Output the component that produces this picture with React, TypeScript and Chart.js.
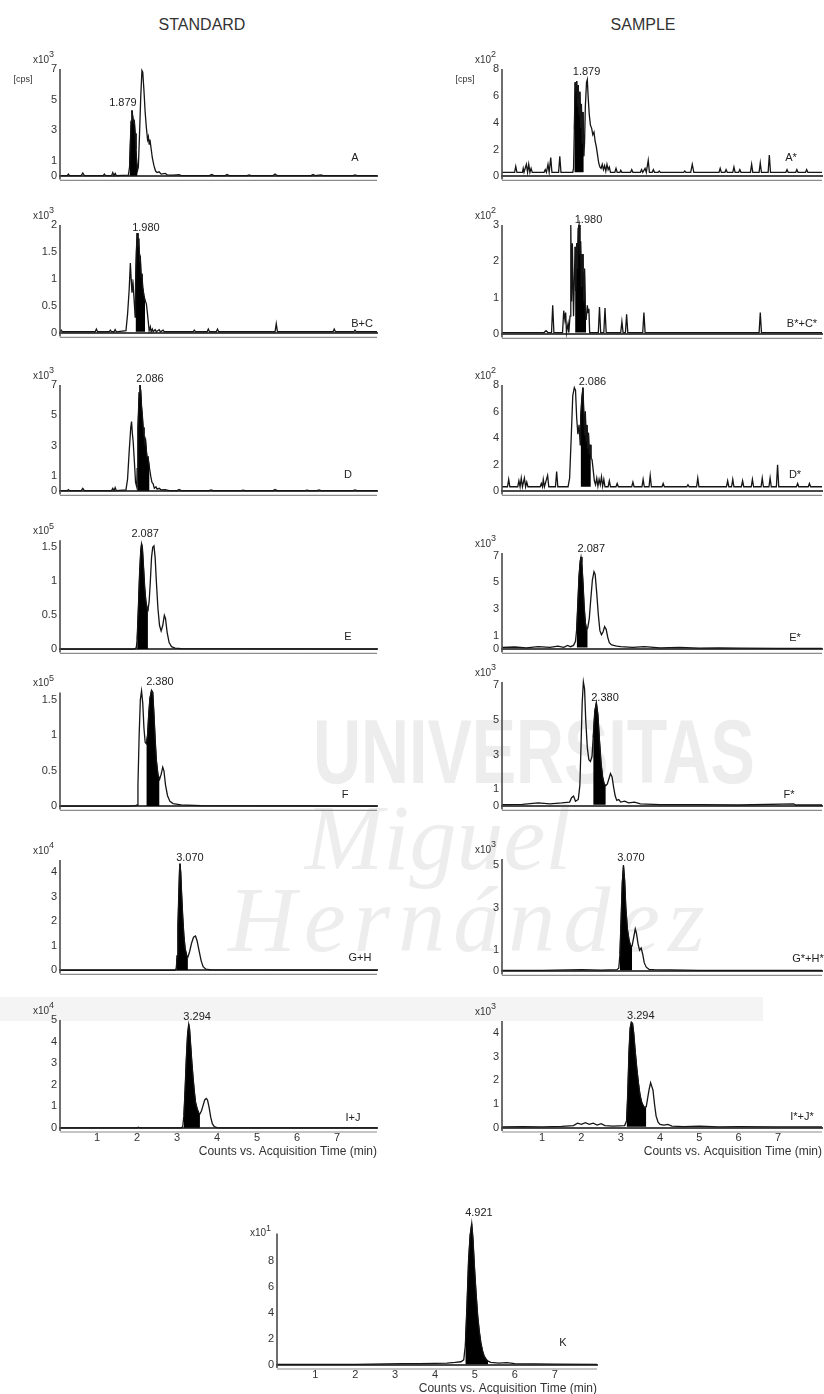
import React, { useEffect, useRef } from "react";
import { Chart, registerables } from "chart.js";

Chart.register(...registerables);

type Pt = [number, number];

// ---------- DATA (time in min, counts in panel units) ----------
const stdA: Pt[] = [
  [0.07, 0.05], [0.25, 0.05], [0.28, 0.15], [0.31, 0.05], [0.6, 0.05], [0.64, 0.22], [0.68, 0.05],
  [1.15, 0.05], [1.18, 0.15], [1.21, 0.05], [1.36, 0.05], [1.39, 0.25], [1.42, 0.05], [1.45, 0.2], [1.48, 0.05],
  [1.78, 0.08], [1.81, 0.6], [1.83, 2.2], [1.85, 3.6], [1.87, 4.3], [1.89, 3.9], [1.91, 3.5], [1.93, 3.6],
  [1.95, 2.8], [1.97, 1.8], [1.99, 0.9], [2.01, 0.4], [2.03, 0.6], [2.06, 2.8], [2.09, 5.2], [2.12, 6.9],
  [2.14, 6.8], [2.17, 5.6], [2.2, 4.2], [2.23, 3.2], [2.26, 2.4], [2.28, 2.6], [2.3, 2.1], [2.32, 2.4],
  [2.35, 1.8], [2.38, 1.2], [2.42, 0.7], [2.46, 0.35], [2.5, 0.25], [2.55, 0.3], [2.6, 0.15], [2.7, 0.2],
  [2.75, 0.1], [2.9, 0.08], [3.05, 0.12], [3.1, 0.05], [3.8, 0.05], [3.87, 0.12], [3.92, 0.05], [4.2, 0.05],
  [4.25, 0.12], [4.3, 0.05], [4.75, 0.05], [4.8, 0.1], [4.85, 0.05], [5.4, 0.05], [5.45, 0.15], [5.5, 0.05],
  [6.35, 0.05], [6.4, 0.12], [6.45, 0.05], [6.6, 0.1], [6.65, 0.05], [7.4, 0.05], [7.45, 0.1], [7.5, 0.05], [8.0, 0.05],
];

const stdBC: Pt[] = [
  [0.07, 0.03], [0.1, 0.06], [0.13, 0.03], [0.95, 0.03], [0.98, 0.08], [1.01, 0.03], [1.3, 0.03], [1.33, 0.06],
  [1.36, 0.03], [1.42, 0.03], [1.45, 0.07], [1.48, 0.03], [1.72, 0.05], [1.76, 0.35], [1.8, 0.8], [1.83, 1.3],
  [1.85, 1.0], [1.87, 0.75], [1.9, 0.9], [1.93, 0.55], [1.95, 0.3], [1.96, 0.9], [1.98, 1.5], [2.0, 1.85],
  [2.02, 1.6], [2.04, 1.75], [2.06, 1.35], [2.08, 1.4], [2.1, 1.05], [2.12, 1.1], [2.14, 0.85], [2.17, 0.7],
  [2.2, 0.6], [2.23, 0.55], [2.26, 0.35], [2.28, 0.2], [2.3, 0.05], [2.33, 0.12], [2.35, 0.03], [2.38, 0.08],
  [2.4, 0.03], [2.45, 0.07], [2.48, 0.03], [2.55, 0.07], [2.58, 0.03], [2.65, 0.06], [2.68, 0.03], [3.4, 0.03],
  [3.43, 0.06], [3.46, 0.03], [3.75, 0.03], [3.78, 0.08], [3.81, 0.03], [3.98, 0.03], [4.01, 0.08], [4.04, 0.03],
  [5.45, 0.03], [5.48, 0.18], [5.51, 0.03], [6.9, 0.03], [6.93, 0.08], [6.96, 0.03], [7.42, 0.03], [7.45, 0.06],
  [7.48, 0.03], [8.0, 0.03],
];

const stdD: Pt[] = [
  [0.07, 0.05], [0.25, 0.05], [0.28, 0.12], [0.31, 0.05], [0.6, 0.05], [0.64, 0.2], [0.68, 0.05], [1.36, 0.05],
  [1.39, 0.2], [1.42, 0.05], [1.45, 0.25], [1.48, 0.05], [1.72, 0.1], [1.76, 0.8], [1.8, 2.6], [1.84, 4.2],
  [1.86, 4.6], [1.88, 3.8], [1.9, 3.3], [1.93, 2.0], [1.96, 0.6], [1.99, 0.3], [2.0, 1.5], [2.02, 4.2],
  [2.05, 6.5], [2.07, 7.0], [2.09, 6.6], [2.11, 5.6], [2.13, 5.0], [2.15, 4.2], [2.17, 3.8], [2.19, 3.2],
  [2.21, 3.4], [2.23, 2.7], [2.25, 2.2], [2.27, 2.3], [2.29, 1.9], [2.31, 1.5], [2.34, 1.0], [2.37, 0.6],
  [2.4, 0.5], [2.43, 0.2], [2.47, 0.3], [2.5, 0.15], [2.55, 0.2], [2.6, 0.1], [2.7, 0.12], [2.8, 0.05],
  [3.0, 0.05], [3.05, 0.12], [3.1, 0.05], [3.8, 0.05], [3.85, 0.1], [3.9, 0.05], [4.6, 0.05], [4.65, 0.08],
  [4.7, 0.05], [5.4, 0.05], [5.45, 0.12], [5.5, 0.05], [6.2, 0.05], [6.25, 0.08], [6.3, 0.05], [6.5, 0.05],
  [6.55, 0.1], [6.6, 0.05], [7.4, 0.05], [7.45, 0.1], [7.5, 0.05], [8.0, 0.05],
];

const stdE: Pt[] = [
  [0.07, 0.005], [1.9, 0.005], [1.95, 0.01], [1.98, 0.03], [2.0, 0.15], [2.03, 0.6], [2.06, 1.1], [2.09, 1.45],
  [2.11, 1.55], [2.13, 1.5], [2.16, 1.2], [2.19, 0.9], [2.22, 0.7], [2.25, 0.6], [2.27, 0.58], [2.3, 0.7],
  [2.33, 1.0], [2.36, 1.35], [2.39, 1.5], [2.42, 1.52], [2.45, 1.35], [2.48, 1.0], [2.52, 0.6], [2.56, 0.35],
  [2.6, 0.27], [2.64, 0.35], [2.68, 0.5], [2.71, 0.45], [2.75, 0.25], [2.8, 0.1], [2.86, 0.04], [2.95, 0.02],
  [3.1, 0.01], [8.0, 0.005],
];

const stdF: Pt[] = [
  [0.07, 0.005], [1.8, 0.005], [1.96, 0.01], [2.0, 0.02], [2.02, 0.3], [2.05, 1.0], [2.08, 1.5], [2.11, 1.62],
  [2.14, 1.45], [2.17, 1.1], [2.2, 0.9], [2.23, 0.88], [2.26, 1.0], [2.29, 1.3], [2.32, 1.52], [2.36, 1.63],
  [2.39, 1.6], [2.42, 1.3], [2.45, 0.95], [2.48, 0.65], [2.52, 0.45], [2.56, 0.38], [2.6, 0.45], [2.64, 0.55],
  [2.67, 0.5], [2.71, 0.3], [2.76, 0.15], [2.82, 0.07], [2.9, 0.04], [3.1, 0.02], [3.6, 0.01], [8.0, 0.005],
];

const stdGH: Pt[] = [
  [0.07, 0.005], [2.9, 0.005], [2.95, 0.01], [2.98, 0.1], [3.0, 0.6], [3.02, 1.8], [3.04, 3.0], [3.06, 4.1],
  [3.07, 4.35], [3.09, 4.0], [3.11, 3.2], [3.14, 2.2], [3.17, 1.4], [3.2, 0.9], [3.24, 0.6], [3.27, 0.55],
  [3.31, 0.75], [3.36, 1.1], [3.41, 1.35], [3.46, 1.4], [3.5, 1.2], [3.55, 0.8], [3.6, 0.4], [3.65, 0.15],
  [3.72, 0.05], [3.85, 0.02], [8.0, 0.005],
];

const stdIJ: Pt[] = [
  [0.07, 0.01], [2.0, 0.01], [2.03, 0.04], [2.06, 0.01], [3.1, 0.01], [3.14, 0.05], [3.17, 0.6], [3.2, 1.8],
  [3.23, 3.2], [3.26, 4.3], [3.29, 4.8], [3.31, 4.6], [3.34, 3.8], [3.37, 3.0], [3.4, 2.3], [3.43, 1.7],
  [3.46, 1.2], [3.5, 0.9], [3.54, 0.7], [3.57, 0.65], [3.61, 0.8], [3.65, 1.05], [3.69, 1.3], [3.73, 1.37],
  [3.76, 1.3], [3.8, 0.95], [3.84, 0.5], [3.88, 0.2], [3.93, 0.06], [4.0, 0.02], [4.1, 0.01], [8.0, 0.01],
];

const smpA: Pt[] = [
  [-0.02, 0.3], [0.3, 0.3], [0.33, 0.75], [0.36, 0.3], [0.5, 0.3], [0.52, 0.6], [0.54, 0.3], [0.6, 0.9],
  [0.63, 0.3], [0.66, 0.9], [0.69, 0.3], [0.72, 0.6], [0.75, 0.3], [1.05, 0.3], [1.08, 0.5], [1.11, 0.3],
  [1.15, 0.9], [1.18, 0.3], [1.22, 1.4], [1.25, 0.3], [1.42, 0.3], [1.45, 1.5], [1.48, 0.3], [1.78, 0.3],
  [1.8, 0.6], [1.82, 3.5], [1.84, 7.0], [1.86, 6.4], [1.88, 7.1], [1.9, 5.2], [1.92, 6.8], [1.94, 4.6],
  [1.96, 6.3], [1.98, 3.6], [2.0, 5.4], [2.02, 2.5], [2.04, 4.8], [2.06, 1.5], [2.08, 2.5], [2.1, 5.2],
  [2.13, 7.0], [2.15, 7.2], [2.17, 6.0], [2.2, 4.6], [2.23, 3.8], [2.26, 3.6], [2.29, 3.1], [2.32, 3.3],
  [2.35, 2.6], [2.38, 2.2], [2.41, 1.6], [2.44, 1.0], [2.47, 0.7], [2.5, 0.6], [2.53, 0.9], [2.56, 0.5],
  [2.59, 0.8], [2.62, 0.4], [2.65, 0.9], [2.68, 0.5], [2.71, 0.7], [2.74, 0.3], [2.85, 0.3], [2.88, 0.6],
  [2.91, 0.3], [2.98, 0.3], [3.0, 0.45], [3.03, 0.3], [3.25, 0.3], [3.28, 0.5], [3.31, 0.3], [3.5, 0.3],
  [3.53, 0.5], [3.56, 0.3], [3.62, 0.6], [3.65, 0.3], [3.7, 1.2], [3.73, 0.3], [3.8, 0.3], [3.83, 0.5],
  [3.86, 0.3], [3.95, 0.3], [3.98, 0.4], [4.01, 0.3], [4.6, 0.3], [4.63, 0.4], [4.66, 0.3], [4.78, 0.3],
  [4.82, 0.9], [4.86, 0.3], [5.5, 0.3], [5.53, 0.6], [5.56, 0.3], [5.65, 0.3], [5.68, 0.5], [5.71, 0.3],
  [5.85, 0.3], [5.88, 0.7], [5.91, 0.3], [6.0, 0.3], [6.03, 0.5], [6.06, 0.3], [6.3, 0.3], [6.33, 0.9],
  [6.36, 0.3], [6.52, 0.3], [6.55, 1.0], [6.58, 0.3], [6.75, 0.3], [6.78, 1.6], [6.81, 0.3], [7.2, 0.3],
  [7.23, 0.5], [7.26, 0.3], [7.45, 0.3], [7.48, 0.5], [7.51, 0.3], [7.7, 0.3], [7.73, 0.5], [7.76, 0.3], [8.12, 0.3],
];

const smpBC: Pt[] = [
  [-0.02, 0.05], [1.05, 0.05], [1.1, 0.1], [1.15, 0.05], [1.24, 0.05], [1.27, 0.8], [1.3, 0.05], [1.52, 0.05],
  [1.55, 0.65], [1.58, 0.4], [1.6, 0.6], [1.62, 0.05], [1.66, 0.3], [1.68, 0.05], [1.71, 0.5], [1.73, 3.0],
  [1.75, 0.9], [1.77, 2.5], [1.79, 1.1], [1.8, 0.5], [1.82, 1.5], [1.84, 2.4], [1.86, 1.2], [1.88, 2.5],
  [1.9, 1.8], [1.92, 2.9], [1.94, 3.0], [1.96, 2.2], [1.98, 2.55], [2.0, 1.3], [2.02, 2.2], [2.04, 1.8],
  [2.06, 0.9], [2.08, 1.8], [2.1, 0.6], [2.12, 0.4], [2.15, 0.8], [2.17, 0.6], [2.19, 0.7], [2.21, 0.05],
  [2.43, 0.05], [2.46, 0.75], [2.49, 0.05], [2.57, 0.05], [2.6, 0.72], [2.63, 0.05], [3.0, 0.05], [3.03, 0.35],
  [3.06, 0.05], [3.12, 0.05], [3.15, 0.55], [3.18, 0.05], [3.56, 0.05], [3.59, 0.6], [3.62, 0.05], [6.52, 0.05],
  [6.55, 0.6], [6.58, 0.05], [8.12, 0.05],
];

const smpD: Pt[] = [
  [-0.02, 0.35], [0.12, 0.35], [0.15, 0.9], [0.18, 0.35], [0.38, 0.35], [0.41, 0.8], [0.44, 0.35], [0.47, 1.0],
  [0.5, 0.35], [0.55, 1.0], [0.58, 0.35], [0.61, 0.7], [0.64, 0.35], [0.95, 0.35], [0.98, 0.6], [1.01, 0.35],
  [1.03, 0.9], [1.06, 0.35], [1.14, 1.2], [1.17, 0.35], [1.34, 0.35], [1.37, 1.5], [1.4, 0.35], [1.66, 0.35],
  [1.7, 1.0], [1.74, 4.0], [1.78, 7.2], [1.82, 7.8], [1.85, 7.6], [1.88, 5.5], [1.91, 4.3], [1.94, 5.0],
  [1.97, 3.5], [1.98, 5.5], [2.01, 7.0], [2.04, 7.8], [2.06, 6.0], [2.08, 4.2], [2.1, 6.0], [2.12, 3.8],
  [2.14, 5.0], [2.16, 3.2], [2.18, 4.4], [2.2, 2.8], [2.22, 3.5], [2.24, 2.5], [2.27, 2.4], [2.3, 1.6],
  [2.33, 0.8], [2.36, 0.5], [2.39, 1.0], [2.42, 0.4], [2.45, 0.9], [2.48, 0.5], [2.51, 1.1], [2.54, 0.4],
  [2.57, 0.9], [2.6, 0.35], [2.68, 0.35], [2.71, 0.8], [2.74, 0.35], [2.88, 0.35], [2.91, 0.6], [2.94, 0.35],
  [3.28, 0.35], [3.31, 0.7], [3.34, 0.35], [3.54, 0.35], [3.57, 0.9], [3.6, 0.35], [3.72, 0.35], [3.75, 1.2],
  [3.78, 0.35], [4.05, 0.35], [4.08, 0.6], [4.11, 0.35], [4.68, 0.35], [4.71, 0.5], [4.74, 0.35], [4.93, 0.35],
  [4.96, 1.0], [4.99, 0.35], [5.69, 0.35], [5.72, 0.8], [5.75, 0.35], [5.82, 0.35], [5.85, 0.9], [5.88, 0.35],
  [6.07, 0.35], [6.1, 0.8], [6.13, 0.35], [6.32, 0.35], [6.35, 0.9], [6.38, 0.35], [6.57, 0.35], [6.6, 1.0],
  [6.63, 0.35], [6.77, 0.35], [6.8, 1.0], [6.83, 0.35], [6.96, 0.35], [6.99, 2.0], [7.02, 0.35], [7.47, 0.35],
  [7.5, 0.6], [7.53, 0.35], [7.77, 0.35], [7.8, 0.6], [7.83, 0.35], [8.12, 0.35],
];

const smpE: Pt[] = [
  [-0.02, 0.15], [0.3, 0.18], [0.6, 0.12], [0.9, 0.2], [1.2, 0.15], [1.4, 0.25], [1.55, 0.15], [1.65, 0.3],
  [1.72, 0.2], [1.8, 0.3], [1.85, 0.6], [1.88, 1.5], [1.91, 3.5], [1.94, 5.5], [1.97, 6.6], [1.99, 6.9],
  [2.01, 6.5], [2.04, 5.0], [2.07, 3.2], [2.1, 2.0], [2.13, 1.5], [2.16, 1.6], [2.2, 2.3], [2.24, 3.8],
  [2.28, 5.2], [2.32, 5.8], [2.35, 5.6], [2.39, 4.2], [2.43, 2.6], [2.47, 1.4], [2.51, 1.1], [2.55, 1.3],
  [2.59, 1.7], [2.63, 1.5], [2.67, 0.9], [2.71, 0.5], [2.76, 0.35], [2.82, 0.3], [2.9, 0.25], [3.0, 0.2],
  [3.3, 0.15], [3.6, 0.2], [4.0, 0.12], [4.5, 0.15], [5.0, 0.1], [5.5, 0.12], [6.0, 0.1], [7.0, 0.08], [8.12, 0.08],
];

const smpF: Pt[] = [
  [-0.02, 0.1], [0.5, 0.12], [0.9, 0.2], [1.2, 0.15], [1.5, 0.2], [1.7, 0.25], [1.75, 0.5], [1.8, 0.6],
  [1.85, 0.3], [1.92, 0.4], [1.96, 1.2], [1.99, 3.5], [2.02, 6.0], [2.05, 7.2], [2.08, 6.8], [2.11, 5.0],
  [2.15, 3.4], [2.19, 2.7], [2.23, 2.6], [2.27, 2.9], [2.3, 4.0], [2.34, 5.5], [2.38, 6.0], [2.42, 5.3],
  [2.46, 3.8], [2.5, 2.5], [2.54, 1.7], [2.58, 1.3], [2.62, 1.2], [2.66, 1.3], [2.7, 1.6], [2.74, 1.9],
  [2.78, 1.7], [2.82, 1.1], [2.86, 0.6], [2.9, 0.35], [2.95, 0.4], [3.0, 0.25], [3.1, 0.3], [3.2, 0.2],
  [3.35, 0.25], [3.5, 0.15], [4.0, 0.1], [5.0, 0.1], [6.0, 0.08], [7.4, 0.15], [7.45, 0.08], [8.12, 0.08],
];

const smpGH: Pt[] = [
  [-0.02, 0.05], [1.0, 0.05], [2.0, 0.08], [2.5, 0.06], [2.9, 0.08], [2.95, 0.15], [2.98, 0.8], [3.01, 2.5],
  [3.04, 4.2], [3.07, 5.0], [3.1, 4.3], [3.13, 3.0], [3.17, 2.0], [3.21, 1.5], [3.25, 1.2], [3.29, 1.2],
  [3.33, 1.6], [3.37, 2.0], [3.4, 1.8], [3.44, 1.3], [3.48, 1.0], [3.52, 1.1], [3.56, 0.8], [3.6, 0.4],
  [3.65, 0.2], [3.72, 0.1], [3.85, 0.08], [5.0, 0.05], [8.12, 0.05],
];

const smpIJ: Pt[] = [
  [-0.02, 0.05], [0.5, 0.06], [1.0, 0.05], [1.5, 0.07], [1.8, 0.1], [1.9, 0.2], [2.0, 0.15], [2.1, 0.22],
  [2.2, 0.15], [2.3, 0.2], [2.4, 0.12], [2.5, 0.18], [2.6, 0.1], [2.8, 0.08], [3.1, 0.1], [3.15, 0.3],
  [3.18, 1.5], [3.21, 3.2], [3.24, 4.2], [3.27, 4.45], [3.3, 4.4], [3.33, 4.0], [3.37, 3.2], [3.41, 2.5],
  [3.45, 1.9], [3.49, 1.4], [3.53, 1.1], [3.57, 0.95], [3.61, 0.85], [3.65, 0.9], [3.68, 1.2], [3.72, 1.6],
  [3.76, 1.9], [3.79, 1.75], [3.82, 1.6], [3.86, 1.0], [3.9, 0.5], [3.95, 0.25], [4.0, 0.15], [4.1, 0.12],
  [4.2, 0.15], [4.3, 0.08], [4.6, 0.06], [5.0, 0.08], [5.5, 0.05], [6.0, 0.06], [7.0, 0.05], [8.12, 0.05],
];

const traceK: Pt[] = [
  [0.04, 0.05], [1.0, 0.05], [2.0, 0.05], [2.8, 0.08], [3.2, 0.1], [3.6, 0.1], [4.0, 0.12], [4.3, 0.15],
  [4.5, 0.2], [4.65, 0.25], [4.72, 0.4], [4.76, 1.5], [4.8, 4.5], [4.84, 8.0], [4.88, 10.0], [4.92, 10.9],
  [4.95, 9.8], [4.99, 7.5], [5.03, 5.5], [5.07, 3.8], [5.11, 2.6], [5.15, 1.7], [5.19, 1.1], [5.23, 0.7],
  [5.28, 0.45], [5.33, 0.3], [5.4, 0.2], [5.6, 0.15], [5.8, 0.18], [6.0, 0.1], [6.5, 0.08], [7.0, 0.06], [8.06, 0.05],
];

const timeTicks = [1, 2, 3, 4, 5, 6, 7];
const ticks7 = [0, 1, 3, 5, 7];
const ticks8 = [0, 2, 4, 6, 8];
const ticksHalf2 = [0, 0.5, 1, 1.5, 2];
const ticksHalf15 = [0, 0.5, 1, 1.5];
const ticks3 = [0, 1, 2, 3];
const ticks4 = [0, 1, 2, 3, 4];
const ticks5 = [0, 1, 2, 3, 4, 5];
const ticks5odd = [0, 1, 3, 5];

// ---------- LAYOUT ----------
const FONT = "'Liberation Sans', Arial, Helvetica, sans-serif";
const PAD_L = 58;
const PAD_T = 36;
const PAD_R = 8;

interface PanelCfg {
  data: Pt[];
  fill: [number, number];
  base: number;
  left: number;
  width: number;
  xMin: number;
  xMax: number;
  zeroY: number;
  unitPx: number;
  yMax: number;
  axisTop: number;
  yTicks: number[];
  exp: string;
  expDy?: number;
  cps?: boolean;
  peak: { text: string; t: number; v: number };
  letter: { text: string; dx: number; dy: number };
  xLabels?: boolean;
}

const L = { left: 60, width: 317, xMin: 0.07, xMax: 8.0 };
const R = { left: 502, width: 320, xMin: -0.02, xMax: 8.12 };

const panels: PanelCfg[] = [
  { ...L, data: stdA, fill: [1.8, 2.02], base: 0.05, zeroY: 178, unitPx: 15.6, yMax: 7, axisTop: 7, yTicks: ticks7, exp: "3", cps: true,
    peak: { text: "1.879", t: 1.645, v: 4.8 }, letter: { text: "A", dx: 22, dy: 18 } },
  { ...L, data: stdBC, fill: [1.955, 2.2], base: 0.03, zeroY: 335, unitPx: 55, yMax: 2, axisTop: 2, yTicks: ticksHalf2, exp: "3",
    peak: { text: "1.980", t: 2.22, v: 1.95 }, letter: { text: "B+C", dx: 15, dy: 9 } },
  { ...L, data: stdD, fill: [1.995, 2.31], base: 0.05, zeroY: 493, unitPx: 15.4, yMax: 7, axisTop: 7, yTicks: ticks7, exp: "3",
    peak: { text: "2.086", t: 2.32, v: 7.4 }, letter: { text: "D", dx: 29, dy: 16 } },
  { ...L, data: stdE, fill: [2.0, 2.27], base: 0.005, zeroY: 651, unitPx: 69, yMax: 1.62, axisTop: 1.6, yTicks: ticksHalf15, exp: "5",
    peak: { text: "2.087", t: 2.2, v: 1.7 }, letter: { text: "E", dx: 29, dy: 12 } },
  { ...L, data: stdF, fill: [2.23, 2.56], base: 0.005, zeroY: 808, unitPx: 72, yMax: 1.62, axisTop: 1.6, yTicks: ticksHalf15, exp: "5",
    peak: { text: "2.380", t: 2.57, v: 1.74 }, letter: { text: "F", dx: 32, dy: 11 } },
  { ...L, data: stdGH, fill: [2.98, 3.27], base: 0.005, zeroY: 972, unitPx: 25, yMax: 4.5, axisTop: 4.5, yTicks: ticks4, exp: "4",
    peak: { text: "3.070", t: 3.32, v: 4.6 }, letter: { text: "G+H", dx: 17, dy: 12 } },
  { ...L, data: stdIJ, fill: [3.16, 3.57], base: 0.01, zeroY: 1128, unitPx: 21.6, yMax: 5, axisTop: 5, yTicks: ticks5, exp: "4",
    peak: { text: "3.294", t: 3.5, v: 5.15 }, letter: { text: "I+J", dx: 24, dy: 10 }, xLabels: true },

  { ...R, data: smpA, fill: [1.81, 2.07], base: 0.3, zeroY: 178, unitPx: 13.6, yMax: 8, axisTop: 8, yTicks: ticks8, exp: "2", cps: true,
    peak: { text: "1.879", t: 2.13, v: 7.8 }, letter: { text: "A*", dx: 31, dy: 18 } },
  { ...R, data: smpBC, fill: [1.83, 2.12], base: 0.05, zeroY: 336, unitPx: 37, yMax: 3, axisTop: 3, yTicks: ticks3, exp: "2",
    peak: { text: "1.980", t: 2.18, v: 3.13 }, letter: { text: "B*+C*", dx: 20, dy: 10 } },
  { ...R, data: smpD, fill: [1.975, 2.25], base: 0.35, zeroY: 493, unitPx: 13.5, yMax: 8, axisTop: 8, yTicks: ticks8, exp: "2",
    peak: { text: "2.086", t: 2.28, v: 8.2 }, letter: { text: "D*", dx: 27, dy: 16 } },
  { ...R, data: smpE, fill: [1.86, 2.16], base: 0.15, zeroY: 651, unitPx: 13.6, yMax: 7.2, axisTop: 7.2, yTicks: ticks7, exp: "3",
    peak: { text: "2.087", t: 2.25, v: 7.5 }, letter: { text: "E*", dx: 27, dy: 11 } },
  { ...R, data: smpF, fill: [2.28, 2.62], base: 0.1, zeroY: 808, unitPx: 17.5, yMax: 7.2, axisTop: 7.2, yTicks: ticks7, exp: "3",
    peak: { text: "2.380", t: 2.6, v: 6.3 }, letter: { text: "F*", dx: 33, dy: 11 } },
  { ...R, data: smpGH, fill: [2.96, 3.3], base: 0.05, zeroY: 973, unitPx: 21.6, yMax: 5.3, axisTop: 5.3, yTicks: ticks5odd, exp: "3",
    peak: { text: "3.070", t: 3.26, v: 5.37 }, letter: { text: "G*+H*", dx: 14, dy: 12 } },
  { ...R, data: smpIJ, fill: [3.14, 3.66], base: 0.05, zeroY: 1128, unitPx: 23.75, yMax: 4.5, axisTop: 4.5, yTicks: ticks4, exp: "3",
    peak: { text: "3.294", t: 3.51, v: 4.7 }, letter: { text: "I*+J*", dx: 20, dy: 11 }, xLabels: true },

  { left: 277, width: 320, xMin: 0.04, xMax: 8.06, data: traceK, fill: [4.74, 5.33], base: 0.05, zeroY: 1365, unitPx: 13,
    yMax: 11.8, axisTop: 10.15, yTicks: ticks8, exp: "1", expDy: 0,
    peak: { text: "4.921", t: 5.1, v: 11.7 }, letter: { text: "K", dx: 34, dy: 22 }, xLabels: true },
];

function makePlugin(cfg: PanelCfg) {
  return {
    id: "panelText",
    afterDraw(chart: any) {
      const { ctx, chartArea } = chart;
      const xs = chart.scales.x;
      const ys = chart.scales.y;
      const x0 = chartArea.left;
      const y0 = ys.getPixelForValue(0);
      const yTop = ys.getPixelForValue(cfg.axisTop);
      ctx.save();
      // y axis line
      ctx.strokeStyle = "#4a4a4a";
      ctx.lineWidth = 1.6;
      ctx.beginPath();
      ctx.moveTo(x0, yTop);
      ctx.lineTo(x0, y0 + 3);
      ctx.stroke();
      // second (lower) x-axis line
      ctx.strokeStyle = "#8c8c8c";
      ctx.lineWidth = 1.2;
      ctx.beginPath();
      ctx.moveTo(x0, y0 + 4);
      ctx.lineTo(chartArea.right, y0 + 4);
      ctx.stroke();

      ctx.fillStyle = "#333";
      ctx.textBaseline = "middle";
      // multiplier label
      const ey = yTop + (cfg.expDy ?? -9);
      ctx.font = `10px ${FONT}`;
      ctx.textAlign = "right";
      ctx.fillText("x10", x0 - 11, ey);
      ctx.font = `9px ${FONT}`;
      ctx.textAlign = "left";
      ctx.fillText(cfg.exp, x0 - 11, ey - 5);
      if (cfg.cps) {
        ctx.font = `9px ${FONT}`;
        ctx.textAlign = "center";
        ctx.fillText("[cps]", x0 - 37, yTop + 11);
      }
      // peak retention-time label
      ctx.font = `11px ${FONT}`;
      ctx.textAlign = "center";
      ctx.fillStyle = "#222";
      ctx.fillText(cfg.peak.text, xs.getPixelForValue(cfg.peak.t), ys.getPixelForValue(cfg.peak.v));
      // panel letter
      ctx.font = `11px ${FONT}`;
      ctx.fillText(cfg.letter.text, chartArea.right - cfg.letter.dx, y0 - cfg.letter.dy);
      ctx.restore();
    },
  };
}

function Panel({ cfg }: { cfg: PanelCfg }) {
  const ref = useRef<HTMLCanvasElement>(null);
  const areaTop = Math.round(cfg.zeroY - cfg.yMax * cfg.unitPx);
  const areaH = cfg.zeroY - areaTop;
  const bottomH = cfg.xLabels ? 31 : 8;
  const cw = PAD_L + cfg.width + PAD_R;
  const ch = PAD_T + areaH + bottomH;

  useEffect(() => {
    if (!ref.current) return;
    const pts = cfg.data.map(([x, y]) => ({ x, y }));
    const fillPts = cfg.data
      .filter(([x]) => x >= cfg.fill[0] && x <= cfg.fill[1])
      .map(([x, y]) => ({ x, y }));
    const chart = new Chart(ref.current, {
      type: "line",
      data: {
        datasets: [
          {
            data: pts,
            borderColor: "#151515",
            borderWidth: 1.3,
            pointRadius: 0,
            tension: 0,
            fill: false,
            clip: false as any,
            order: 0,
          },
          {
            data: fillPts,
            borderColor: "#000",
            borderWidth: 1,
            backgroundColor: "#000",
            pointRadius: 0,
            tension: 0,
            fill: { value: cfg.base } as any,
            clip: false as any,
            order: 1,
          },
        ],
      },
      options: {
        animation: false,
        responsive: false,
        events: [],
        layout: { padding: { top: PAD_T, right: PAD_R, left: 0, bottom: 0 } },
        plugins: { legend: { display: false }, tooltip: { enabled: false }, title: { display: false } },
        scales: {
          x: {
            type: "linear",
            min: cfg.xMin,
            max: cfg.xMax,
            grid: { display: false, drawTicks: false },
            border: { display: true, color: "#4a4a4a", width: 2 },
            afterBuildTicks: (ax: any) => {
              ax.ticks = timeTicks.map((v) => ({ value: v }));
            },
            afterFit: (s: any) => {
              s.height = bottomH;
            },
            ticks: {
              display: !!cfg.xLabels,
              padding: 3,
              color: "#333",
              font: { family: FONT, size: 11 },
              autoSkip: false,
              maxRotation: 0,
              callback: (v: any) => String(v),
            },
            title: {
              display: !!cfg.xLabels,
              text: "Counts vs. Acquisition Time (min)",
              align: "end",
              color: "#333",
              font: { family: FONT, size: 12 },
              padding: { top: 0, bottom: 0 },
            },
          },
          y: {
            type: "linear",
            min: 0,
            max: cfg.yMax,
            grid: { display: false, drawTicks: false },
            border: { display: false },
            afterBuildTicks: (ax: any) => {
              ax.ticks = cfg.yTicks.map((v) => ({ value: v }));
            },
            afterFit: (s: any) => {
              s.width = PAD_L;
            },
            ticks: {
              padding: 3,
              color: "#333",
              font: { family: FONT, size: 11 },
              autoSkip: false,
              callback: (v: any) => String(v),
            },
          },
        },
      } as any,
      plugins: [makePlugin(cfg)],
    });
    return () => chart.destroy();
  }, []);

  return (
    <canvas
      ref={ref}
      width={cw}
      height={ch}
      style={{ position: "absolute", left: cfg.left - PAD_L, top: areaTop - PAD_T, width: cw, height: ch }}
    />
  );
}

const wm: React.CSSProperties = { position: "absolute", color: "#ededed", whiteSpace: "nowrap", lineHeight: 1 };

export default function App() {
  return (
    <div style={{ position: "absolute", left: 0, top: 0, width: 824, height: 1394, background: "#fff", overflow: "hidden", fontFamily: FONT }}>
      {/* watermark */}
      <div style={{ position: "absolute", left: 0, top: 997, width: 763, height: 24, background: "#f4f4f4" }} />
      <div style={{ ...wm, left: 313, top: 706, fontSize: 91, fontWeight: 700, transform: "scaleX(0.73)", transformOrigin: "left top", fontFamily: FONT }}>UNIVERSITAS</div>
      <div style={{ ...wm, left: 305, top: 790, fontSize: 94, fontStyle: "italic", fontFamily: "'Liberation Serif', serif" }}>Miguel</div>
      <div style={{ ...wm, left: 228, top: 872, fontSize: 94, fontStyle: "italic", letterSpacing: 8, fontFamily: "'Liberation Serif', serif" }}>Hernández</div>

      <div style={{ position: "absolute", left: 202, top: 25, transform: "translate(-50%,-50%)", fontSize: 16, color: "#333" }}>STANDARD</div>
      <div style={{ position: "absolute", left: 643, top: 25, transform: "translate(-50%,-50%)", fontSize: 16, color: "#333" }}>SAMPLE</div>
      {panels.map((p, i) => (
        <Panel key={i} cfg={p} />
      ))}
    </div>
  );
}
